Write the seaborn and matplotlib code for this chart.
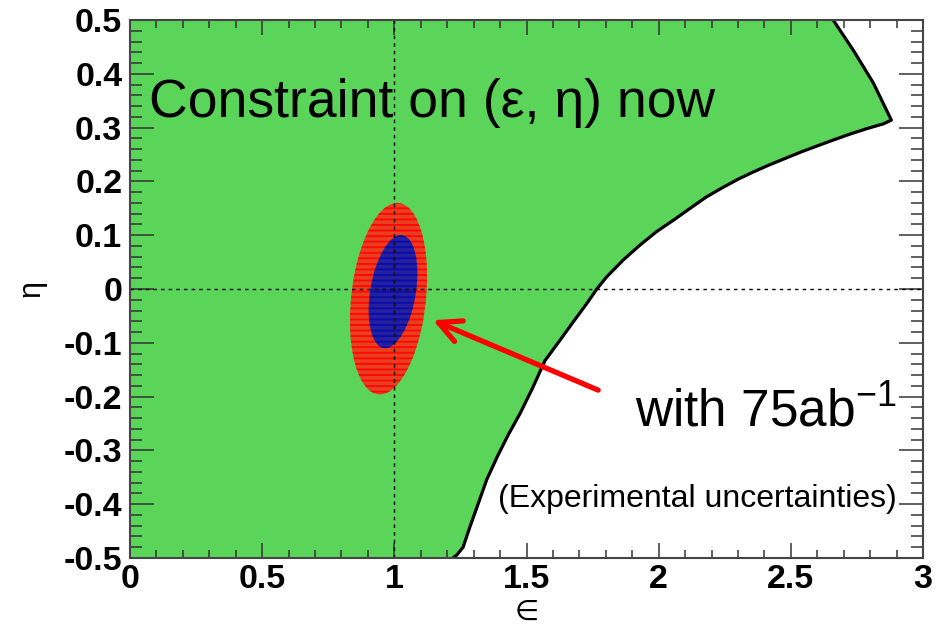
import numpy as np
import pandas as pd
import matplotlib
matplotlib.use("Agg")
import matplotlib.pyplot as plt
from matplotlib.patches import Ellipse
from matplotlib.ticker import MultipleLocator, FixedLocator
import seaborn as sns

# ---------------- data ----------------
# boundary of the currently allowed (green) region
boundary_eps = [1.222, 1.237, 1.260, 1.286, 1.313, 1.349, 1.389, 1.431, 1.476,
                1.522, 1.570, 1.627, 1.677, 1.728, 1.766, 1.804, 1.866, 1.930,
                1.993, 2.056, 2.119, 2.180, 2.240, 2.300, 2.360, 2.420, 2.480,
                2.540, 2.600, 2.661, 2.724, 2.787, 2.850, 2.880, 2.812, 2.736, 2.660]
boundary_eta = [-0.500, -0.494, -0.480, -0.442, -0.405, -0.355, -0.312, -0.271, -0.231,
                -0.185, -0.133, -0.095, -0.061, -0.027, 0.000, 0.023, 0.054, 0.082,
                0.107, 0.128, 0.150, 0.171, 0.188, 0.204, 0.218, 0.231, 0.243,
                0.255, 0.266, 0.277, 0.288, 0.298, 0.307, 0.314, 0.383, 0.444, 0.500]

# projected constraints with 75 ab^-1 (outer: red, inner: blue)
ell_names = ["outer", "inner"]
ell_center_eps = [0.978, 0.995]
ell_center_eta = [-0.018, -0.005]
ell_half_eps = [0.142, 0.087]
ell_half_eta = [0.178, 0.105]
ell_tilt = [0.033, 0.030]
ell_colors = ["#E8401E", "#24229A"]
ell_stripe_colors = ["#FF0808", "#0A0AB0"]

x_ticks = [0, 0.5, 1, 1.5, 2, 2.5, 3]
x_tick_labels = ["0", "0.5", "1", "1.5", "2", "2.5", "3"]
y_ticks = [-0.5, -0.4, -0.3, -0.2, -0.1, 0, 0.1, 0.2, 0.3, 0.4, 0.5]
y_tick_labels = ["-0.5", "-0.4", "-0.3", "-0.2", "-0.1", "0", "0.1", "0.2", "0.3", "0.4", "0.5"]

title_text = "Constraint on (\u03b5, \u03b7) now"
lumi_text = "with 75ab$^{-1}$"
note_text = "(Experimental uncertainties)"

# ---------------- style ----------------
sns.set_theme(style="ticks")
plt.rcParams["font.family"] = ["Liberation Sans", "DejaVu Sans"]
plt.rcParams["mathtext.fontset"] = "custom"
plt.rcParams["mathtext.rm"] = "Liberation Sans"
plt.rcParams["mathtext.it"] = "Liberation Sans:italic"
plt.rcParams["mathtext.bf"] = "Liberation Sans:bold"
plt.rcParams["axes.unicode_minus"] = False
plt.rcParams["text.color"] = "black"
plt.rcParams["axes.labelcolor"] = "black"
plt.rcParams["xtick.labelcolor"] = "black"
plt.rcParams["ytick.labelcolor"] = "black"
plt.rcParams["hatch.linewidth"] = 1.4

fig = plt.figure(figsize=(9.51, 6.35), dpi=100)
ax = fig.add_axes([0.1367, 0.1213, 0.9706 - 0.1367, 0.9685 - 0.1213])
ax.set_xlim(0, 3)
ax.set_ylim(-0.5, 0.5)

# green allowed region: left of the boundary
df_b = pd.DataFrame({"eps": boundary_eps, "eta": boundary_eta})
poly_x = [0.0] + boundary_eps + [0.0]
poly_y = [-0.5] + boundary_eta + [0.5]
ax.fill(poly_x, poly_y, facecolor="#5AD55A", edgecolor="none", lw=0, zorder=1)
sns.lineplot(data=df_b, x="eps", y="eta", sort=False, estimator=None,
             color="black", lw=2.3, ax=ax, zorder=5)

# ellipses
for cx, cy, a, b, k, col, scol in zip(ell_center_eps, ell_center_eta, ell_half_eps,
                                       ell_half_eta, ell_tilt, ell_colors,
                                       ell_stripe_colors):
    M = np.array([[a, k], [0.0, b]])
    C = M @ M.T
    vals, vecs = np.linalg.eigh(C)
    ang = np.degrees(np.arctan2(vecs[1, 0], vecs[0, 0]))
    e = Ellipse((cx, cy), width=2 * np.sqrt(vals[0]), height=2 * np.sqrt(vals[1]),
                angle=ang, facecolor=col, edgecolor=scol, lw=0, hatch="---",
                zorder=3)
    ax.add_patch(e)

# dashed reference lines
ax.axvline(1.0, color="black", lw=1.0, ls=(0, (2.5, 3)), zorder=4)
ax.axhline(0.0, color="black", lw=1.0, ls=(0, (2.5, 3)), zorder=4)

# texts
ax.text(0.072, 0.320, title_text, fontsize=38.5, va="baseline", ha="left", zorder=6)
ax.text(1.911, -0.2565, lumi_text, fontsize=37, va="baseline", ha="left", zorder=6)
ax.text(1.392, -0.405, note_text, fontsize=23, va="baseline", ha="left", zorder=6)

ax.annotate("", xy=(1.146, -0.058), xytext=(1.771, -0.188),
            arrowprops=dict(arrowstyle="->,head_length=1.6,head_width=0.8",
                            color="#FF0000", lw=3.8, shrinkA=0, shrinkB=0,
                            mutation_scale=10),
            zorder=7)

# axes / ticks
ax.xaxis.set_major_locator(FixedLocator(x_ticks))
ax.set_xticklabels(x_tick_labels)
ax.yaxis.set_major_locator(FixedLocator(y_ticks))
ax.set_yticklabels(y_tick_labels)
ax.xaxis.set_minor_locator(MultipleLocator(0.1))
ax.yaxis.set_minor_locator(MultipleLocator(0.02))

ax.tick_params(axis="both", which="both", direction="in", top=True, right=True,
               color="#333333", width=1.1, labelsize=24.5, labelcolor="black")
ax.tick_params(axis="x", which="major", length=10.8, pad=4.5)
ax.tick_params(axis="x", which="minor", length=5.8)
ax.tick_params(axis="y", which="major", length=17, pad=5.5)
ax.tick_params(axis="y", which="minor", length=8.6)
for lab in ax.get_xticklabels() + ax.get_yticklabels():
    lab.set_fontweight("bold")
for sp in ax.spines.values():
    sp.set_color("#444444")
    sp.set_linewidth(1.5)
    sp.set_zorder(8)
ax.set_axisbelow(False)

ax.set_xlabel("\u2208", fontsize=20, family=["DejaVu Sans"], labelpad=2, color="black")
ax.set_ylabel("\u03b7", fontsize=22, rotation=90, color="black")
ax.yaxis.set_label_coords(-0.105, 0.5)

fig.savefig("out.png", dpi=100)
